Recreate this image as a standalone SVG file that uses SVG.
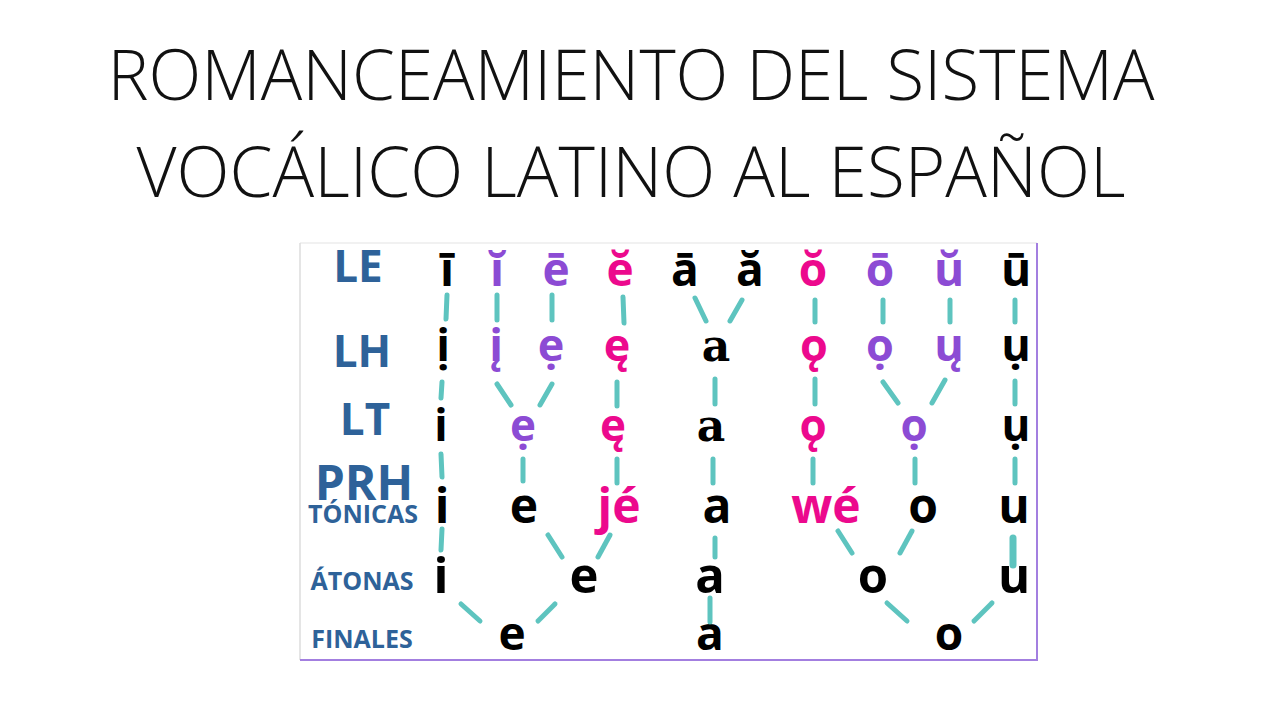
<svg xmlns="http://www.w3.org/2000/svg" width="1280" height="720" viewBox="0 0 1280 720">
<style>
.title{font-family:"Open Sans","Liberation Sans",sans-serif;font-weight:300;font-size:70px;fill:#111;}
.lab{font-family:"Open Sans","Liberation Sans",sans-serif;font-weight:700;fill:#2e6299;text-anchor:middle;}
.v{font-family:"Open Sans","Liberation Sans",sans-serif;font-weight:700;text-anchor:middle;fill:#000;}
.s{font-family:"DejaVu Serif","Liberation Serif",serif;font-weight:700;text-anchor:middle;fill:#000;}
.p{fill:#8c4bd4;}
.k{fill:#ec098d;}
.c line{stroke:#5ec4bf;stroke-width:5;stroke-linecap:round;}
</style>
<rect width="1280" height="720" fill="#fff"/>
<g id="title">
<text class="title" x="631" y="100" text-anchor="middle" textLength="1047" lengthAdjust="spacingAndGlyphs">ROMANCEAMIENTO DEL SISTEMA</text>
<text class="title" x="631" y="197" text-anchor="middle" textLength="989" lengthAdjust="spacingAndGlyphs">VOCÁLICO LATINO AL ESPAÑOL</text>
</g>
<g id="frame">
<line x1="300" y1="243" x2="1037" y2="243" stroke="#ececec" stroke-width="1.5"/>
<line x1="300" y1="243" x2="300" y2="660" stroke="#dcdcdc" stroke-width="1.5"/>
<line x1="1037" y1="243" x2="1037" y2="661" stroke="#a37fe0" stroke-width="2"/>
<line x1="300" y1="660" x2="1038" y2="660" stroke="#a37fe0" stroke-width="2"/>
</g>
<g id="labels">
<text class="lab" x="358" y="282" font-size="44">LE</text>
<text class="lab" x="362" y="367" font-size="44">LH</text>
<text class="lab" x="365" y="435" font-size="44">LT</text>
<text class="lab" x="364" y="500" font-size="48">PRH</text>
<text class="lab" x="363" y="523" font-size="25">TÓNICAS</text>
<text class="lab" x="362" y="590" font-size="25">ÁTONAS</text>
<text class="lab" x="362" y="648" font-size="25">FINALES</text>
</g>
<g id="row-LE" font-size="46">
<text class="v" x="447" y="286">ī</text>
<text class="v p" x="497" y="286">ĭ</text>
<text class="v p" x="556" y="286">ē</text>
<text class="v k" x="620" y="286">ĕ</text>
<text class="v" x="685" y="286">ā</text>
<text class="v" x="750" y="286">ă</text>
<text class="v k" x="813" y="286">ŏ</text>
<text class="v p" x="880" y="286">ō</text>
<text class="v p" x="949" y="286">ŭ</text>
<text class="v" x="1016" y="286">ū</text>
</g>
<g id="row-LH" font-size="45">
<text class="v" x="443" y="361">ị</text>
<text class="v p" x="496" y="361">į</text>
<text class="v p" x="551" y="361">ẹ</text>
<text class="v k" x="617" y="361">ę</text>
<text class="s" x="716" y="361" font-size="44">a</text>
<text class="v k" x="814" y="361">ǫ</text>
<text class="v p" x="880" y="361">ọ</text>
<text class="v p" x="949" y="361">ų</text>
<text class="v" x="1016" y="361">ụ</text>
</g>
<g id="row-LT" font-size="44">
<text class="v" x="441" y="441">i</text>
<text class="v p" x="523" y="441">ẹ</text>
<text class="v k" x="613" y="441">ę</text>
<text class="s" x="711" y="441" font-size="44">a</text>
<text class="v k" x="813" y="441">ǫ</text>
<text class="v p" x="914" y="441">ọ</text>
<text class="v" x="1016" y="441">ụ</text>
</g>
<g id="row-PRH" font-size="48">
<text class="v" x="442" y="523">i</text>
<text class="v" x="524" y="523">e</text>
<text class="v k" x="619" y="523">jé</text>
<text class="v" x="717" y="523">a</text>
<text class="v k" x="826" y="523">wé</text>
<text class="v" x="923" y="523">o</text>
<text class="v" x="1014" y="523">u</text>
</g>
<g id="row-atonas" font-size="49">
<text class="v" x="441" y="593">i</text>
<text class="v" x="584" y="593">e</text>
<text class="v" x="710" y="593">a</text>
<text class="v" x="873" y="593">o</text>
<text class="v" x="1014" y="593">u</text>
</g>
<g id="row-finales" font-size="46">
<text class="v" x="512" y="650">e</text>
<text class="v" x="710" y="650">a</text>
<text class="v" x="949" y="650">o</text>
</g>
<g id="connectors" class="c">
<line x1="447" y1="295" x2="446" y2="319"/>
<line x1="497" y1="295" x2="497" y2="320"/>
<line x1="552" y1="295" x2="552" y2="320"/>
<line x1="623" y1="297" x2="624" y2="323"/>
<line x1="695" y1="298" x2="706" y2="321"/>
<line x1="742" y1="300" x2="730" y2="321"/>
<line x1="815" y1="300" x2="815" y2="322"/>
<line x1="883" y1="300" x2="883" y2="322"/>
<line x1="950" y1="300" x2="950" y2="322"/>
<line x1="1015" y1="300" x2="1015" y2="322"/>

<line x1="442" y1="382" x2="441" y2="398"/>
<line x1="497" y1="384" x2="511" y2="405"/>
<line x1="552" y1="384" x2="540" y2="405"/>
<line x1="617" y1="382" x2="617" y2="406"/>
<line x1="715" y1="379" x2="715" y2="404"/>
<line x1="815" y1="379" x2="815" y2="404"/>
<line x1="883" y1="382" x2="898" y2="403"/>
<line x1="945" y1="380" x2="932" y2="403"/>
<line x1="1015" y1="381" x2="1015" y2="404"/>

<line x1="441" y1="454" x2="442" y2="477"/>
<line x1="523" y1="459" x2="523" y2="481"/>
<line x1="617" y1="459" x2="617" y2="483"/>
<line x1="713" y1="459" x2="713" y2="483"/>
<line x1="813" y1="459" x2="813" y2="483"/>
<line x1="915" y1="459" x2="915" y2="483"/>
<line x1="1015" y1="459" x2="1015" y2="483"/>

<line x1="442" y1="529" x2="441" y2="550"/>
<line x1="548" y1="535" x2="562" y2="557"/>
<line x1="610" y1="535" x2="598" y2="557"/>
<line x1="715" y1="538" x2="715" y2="557"/>
<line x1="838" y1="531" x2="852" y2="553"/>
<line x1="912" y1="531" x2="900" y2="553"/>
<line x1="1013" y1="538" x2="1013" y2="565" style="stroke-width:7"/>

<line x1="461" y1="604" x2="480" y2="621"/>
<line x1="555" y1="604" x2="538" y2="621"/>
<line x1="710" y1="598" x2="710" y2="622"/>
<line x1="887" y1="603" x2="907" y2="621"/>
<line x1="992" y1="603" x2="974" y2="621"/>
</g>
</svg>
